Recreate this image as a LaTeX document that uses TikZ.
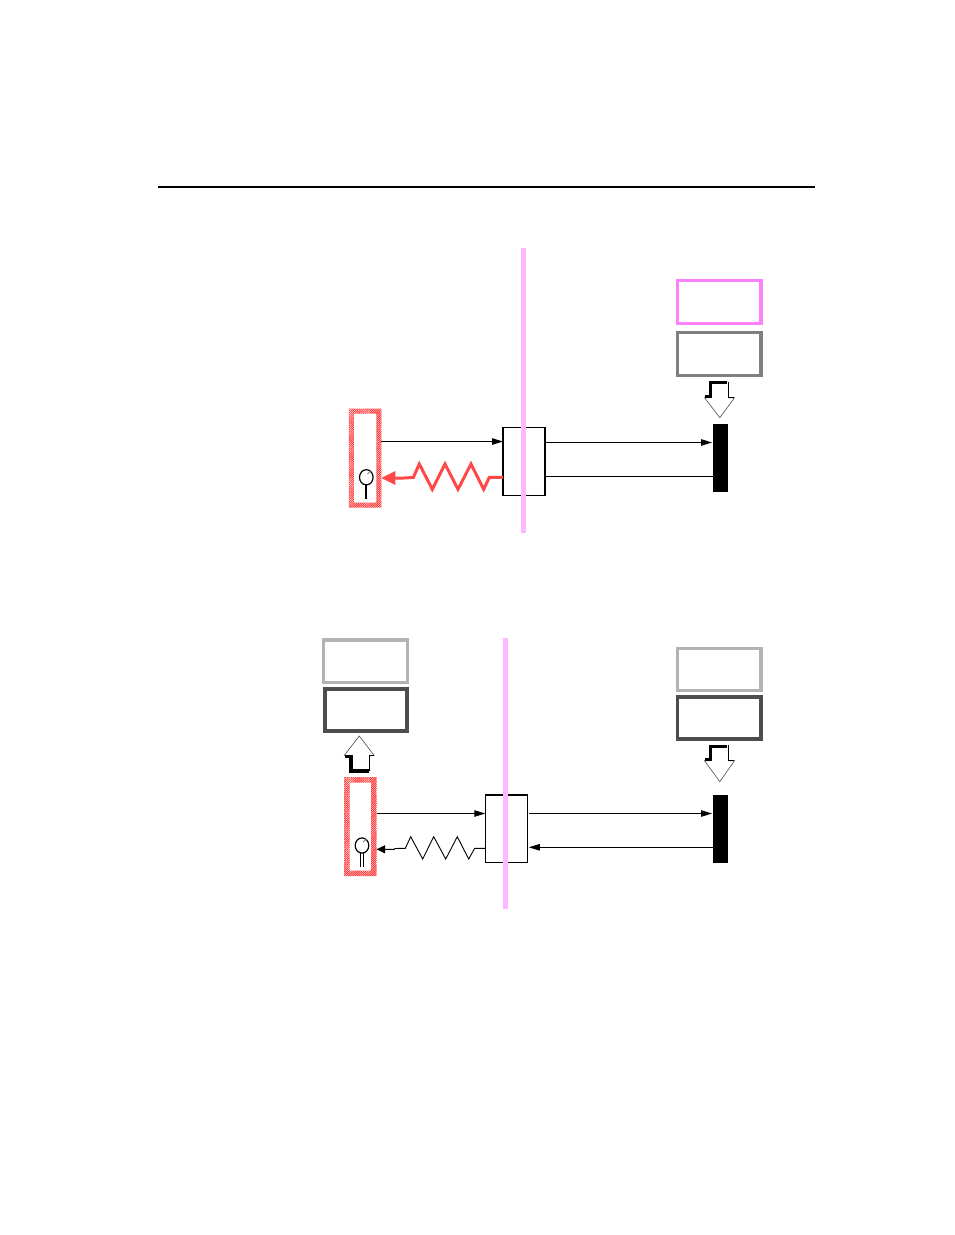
\documentclass[tikz,border=0pt]{standalone}
\usepackage{tikz}
\usetikzlibrary{arrows.meta, patterns.meta}
\definecolor{pinkline}{HTML}{FFB8FF}
\definecolor{pinkbox}{HTML}{FF80FF}
\definecolor{hatchred}{HTML}{FF2E2E}
\definecolor{springred}{HTML}{FF4848}
\definecolor{midgrey}{HTML}{808080}
\definecolor{lightgrey}{HTML}{B3B3B3}
\definecolor{darkgrey}{HTML}{4D4D4D}
\tikzset{
    panelbox/.style={draw,line width=3.3pt,minimum width=83.5pt,minimum height=42.5pt,inner sep=0pt,outer sep=0pt},
    gatebox/.style={draw,line width=1.3pt,minimum width=42pt,minimum height=67.5pt,inner sep=0pt,outer sep=0pt},
    barbox/.style={fill=black,minimum width=15pt,minimum height=67.8pt,inner sep=0pt,outer sep=0pt},
    sensorbox/.style={minimum width=32.5pt,minimum height=99pt,inner sep=0pt,outer sep=0pt},
    hatch/.style={pattern={Lines[angle=45,distance=1.5pt,line width=0.95pt]},pattern color=hatchred,even odd rule},
    wall/.style={pinkline,line width=4.3pt},
    signal/.style={line width=0.9pt,-{Triangle[length=11pt,width=6.5pt]}},
    plainline/.style={line width=0.9pt},
    blockthin/.style={black!70,line width=0.6pt,line join=miter},
    blockthick/.style={line width=3.4pt,line join=miter},
}
\begin{document}
\begin{tikzpicture}[x=1pt,y=-1pt]
    \useasboundingbox (0,0) rectangle (954,1235);
    \draw[line width=2pt] (158,186.5) -- (815,186.5);

    % upper panel
    \node[panelbox,draw=pinkbox] (statustop) at (719.3,302) {};
    \node[panelbox,draw=midgrey] (cachetop) at (719.3,354) {};
    \node[barbox] (bartop) at (720.5,458) {};
    \node[gatebox] (gatetop) at (524,461.5) {};
    \node[sensorbox] (sensortop) at (365,458) {};
    \fill[hatch] (sensortop.north west) rectangle (sensortop.south east)
        ([shift={(5pt,-5pt)}]sensortop.north west) rectangle ([shift={(-5pt,5pt)}]sensortop.south east);

    \draw[signal] (sensortop.east |- 0,441.5) -- (gatetop.west |- 0,441.5);
    \draw[signal] (gatetop.east |- 0,442.5) -- ([xshift=-1pt]bartop.west |- 0,442.5);
    \draw[plainline] (gatetop.east |- 0,476.5) -- (bartop.west |- 0,476.5);
    \draw[springred,line width=3pt,-{Triangle[length=14pt,width=13pt]}] (gatetop.west |- 0,477.3) -- (489.3,477.3) -- (483.7,489.3) -- (471,464)
        -- (458,489.3) -- (445,464) -- (432.3,489.3) -- (419.3,464) -- (413.3,477.5) -- (404,478) -- (sensortop.east |- 0,478);

    \draw[line width=1.2pt] (366.3,477.3) ellipse (6.8pt and 7.6pt);
    \draw[black!50,line width=0.9pt] (367.5,474) -- (371,470.5);
    \draw[line width=1.8pt] (366.3,485) -- (366.3,499);

    \draw[blockthin,fill=white] (710,397.7) -- (704.5,397.7) -- (719.8,417.7) -- (734.5,397.7) -- (728,397.7);
    \draw[blockthick] (704.8,396.5) -- (710.3,396.5) -- (710.3,382.7) -- (727,382.7);
    \draw[line width=1pt] (728,381.5) -- (728,397.5) -- (734,397.5);

    \draw[wall] (523.5,248) -- (523.5,533);

    % lower panel
    \node[panelbox,draw=lightgrey] (statusleft) at (365.5,661.3) {};
    \node[panelbox,draw=darkgrey,line width=3.6pt,minimum width=82pt] (cacheleft) at (366,710) {};
    \node[panelbox,draw=lightgrey] (statusright) at (719.3,669.5) {};
    \node[panelbox,draw=darkgrey,line width=3.6pt] (cacheright) at (719.3,718) {};
    \node[barbox] (barlow) at (720.5,829) {};
    \node[gatebox] (gatelow) at (506.3,828.5) {};
    \node[sensorbox] (sensorlow) at (360.3,826.5) {};
    \fill[hatch] (sensorlow.north west) rectangle (sensorlow.south east)
        ([shift={(5.5pt,-5.5pt)}]sensorlow.north west) rectangle ([shift={(-5.5pt,5.5pt)}]sensorlow.south east);

    \draw[line width=2pt] (gatelow.north west) -- (gatelow.north east);
    \draw[signal] (sensorlow.east |- 0,813.5) -- (gatelow.west |- 0,813.5);
    \draw[signal] ([xshift=1.5pt]gatelow.east |- 0,813.5) -- ([xshift=-1pt]barlow.west |- 0,813.5);
    \draw[signal] (barlow.west |- 0,847.3) -- ([xshift=1.5pt]gatelow.east |- 0,847.3);
    \draw[line width=0.9pt,-{Triangle[length=8.5pt,width=8pt]}] (gatelow.west |- 0,848.3) -- (474.7,848.3) -- (468.7,859) -- (457.3,836.7)
        -- (445.7,859) -- (433.7,836.7) -- (422.7,859) -- (410.7,836.7) -- (405.3,848.3) -- (395,848.5) -- (394.3,849.3) -- (sensorlow.east |- 0,849.3);

    \draw[line width=1.2pt] (362,845.5) ellipse (6.8pt and 7.6pt);
    \draw[black!50,line width=0.9pt] (363,842) -- (366.5,839);
    \draw[line width=0.9pt] (360.2,853) -- (360.2,866.7) (363.4,853) -- (363.4,866.7);

    % left block arrow points up, the other one down
    \draw[blockthin,fill=white] (350,755.3) -- (344.3,755.3) -- (359.3,736) -- (374,755.3) -- (369,755.3);
    \draw[blockthick] (344.6,756.5) -- (350.8,756.5) -- (350.8,771) -- (369,771);
    \draw[line width=1pt] (369,770.5) -- (369,755.8) -- (373.8,755.8);

    \draw[blockthin,fill=white] (710,760.7) -- (704.5,760.7) -- (719.8,781.7) -- (734.5,760.7) -- (728,760.7);
    \draw[blockthick] (704.8,759.5) -- (710.3,759.5) -- (710.3,746.7) -- (727,746.7);
    \draw[line width=1pt] (728,745.3) -- (728,760.5) -- (734,760.5);

    \draw[wall] (505.5,638) -- (505.5,909);
\end{tikzpicture}
\end{document}
